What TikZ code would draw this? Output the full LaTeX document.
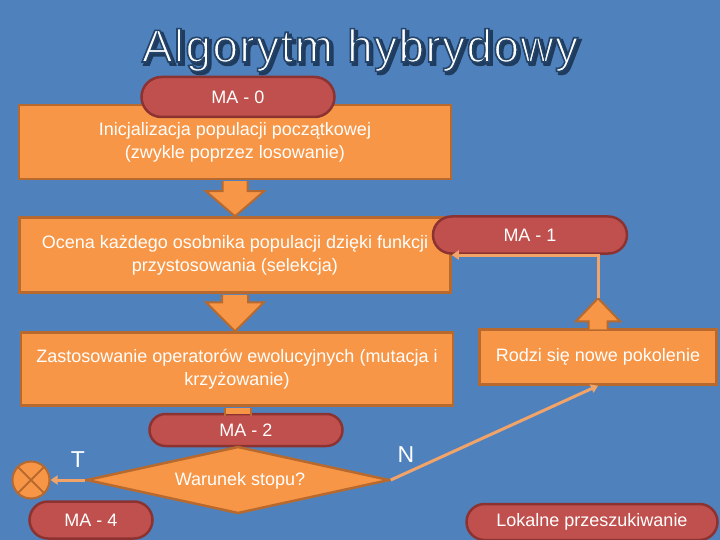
\documentclass[tikz,border=0pt]{standalone}
\usepackage{fontspec}
\setmainfont{Liberation Sans}
\newfontfamily\titlefont[LetterSpace=3]{Liberation Sans}
\usetikzlibrary{shapes.geometric,shapes.misc,arrows.meta,calc}
\definecolor{bg}{HTML}{4F81BD}
\definecolor{org}{HTML}{F79646}
\definecolor{orgd}{HTML}{B86A2E}
\definecolor{redf}{HTML}{C0504D}
\definecolor{redd}{HTML}{8C3332}
\definecolor{connc}{HTML}{F2A468}
\definecolor{navy}{HTML}{1F3B5E}
\begin{document}
\begin{tikzpicture}[x=1pt,y=-1pt,
  txt/.style={text=white,font=\fontsize{18}{23}\selectfont},
  box/.style={draw=orgd,fill=org,line width=2.5pt,inner sep=0pt,align=center,txt},
  pill/.style={rounded rectangle,draw=redd,fill=redf,line width=2.5pt,inner sep=0pt,txt},
  blkarrow/.style={fill=org},
  blkedge/.style={draw=orgd,line width=2pt,line join=miter},
  conn/.style={draw=connc,line width=3pt},
  tip/.style={-{Triangle[width=9pt,length=7pt]}},
  lbl/.style={text=white,font=\fontsize{23}{23}\selectfont},
  ttl/.style={font=\titlefont\fontsize{46}{46}\selectfont,anchor=base,inner sep=0pt}]
\useasboundingbox (0,0) rectangle (720,540);
\fill[bg] (0,0) rectangle (720,540);

% title: white fill, dark outline (text render mode 2), dark shadow behind
\node[ttl,text=navy] (titleshadow) at (362.5,64.5) {\special{pdf:literal direct 2 Tr 2.5 w 0.12 0.23 0.37 RG}Algorytm hybrydowy\special{pdf:literal direct 0 Tr}};
\node[ttl,text=white] (title) at (360,62) {\special{pdf:literal direct 2 Tr 1.6 w 0.14 0.27 0.42 RG}Algorytm hybrydowy\special{pdf:literal direct 0 Tr}};

% boxes
\node[box,minimum width=432pt,minimum height=74pt] (b1) at (235,142)
  {Inicjalizacja populacji początkowej\\(zwykle poprzez losowanie)};
\node[box,minimum width=431pt,minimum height=75pt] (b2) at (235,255)
  {Ocena każdego osobnika populacji dzięki funkcji\\przystosowania (selekcja)};
\node[box,minimum width=432pt,minimum height=73pt] (b3) at (237,369)
  {Zastosowanie operatorów ewolucyjnych (mutacja i\\krzyżowanie)};
\node[box,minimum width=237pt,minimum height=55pt] (rodzi) at (598,357)
  {Rodzi się nowe pokolenie};

% pills
\node[pill,minimum width=193pt,minimum height=40pt] (ma0) at (238,97) {MA - 0};
\node[pill,minimum width=194pt,minimum height=37pt] (ma1) at (530,235) {MA - 1};

% block arrows
\coordinate (a1s) at (b1.south); \coordinate (a1t) at (b2.north);
\fill[blkarrow] ($(a1s)+(-12.5,1)$) -- ($(a1t)+(-12.5,-25)$) -- ($(a1t)+(-29,-25)$) -- (a1t) -- ($(a1t)+(29,-25)$) -- ($(a1t)+(12.5,-25)$) -- ($(a1s)+(12.5,1)$) -- cycle;
\draw[blkedge] ($(a1s)+(-12.5,1)$) -- ($(a1t)+(-12.5,-25)$) -- ($(a1t)+(-29,-25)$) -- (a1t) -- ($(a1t)+(29,-25)$) -- ($(a1t)+(12.5,-25)$) -- ($(a1s)+(12.5,1)$);

\coordinate (a2s) at (b2.south); \coordinate (a2t) at ($(b3.north)+(-2,0)$);
\fill[blkarrow] ($(a2s)+(-13,1)$) -- ($(a2t)+(-13,-29)$) -- ($(a2t)+(-29,-29)$) -- (a2t) -- ($(a2t)+(29,-29)$) -- ($(a2t)+(13,-29)$) -- ($(a2s)+(13,1)$) -- cycle;
\draw[blkedge] ($(a2s)+(-13,1)$) -- ($(a2t)+(-13,-29)$) -- ($(a2t)+(-29,-29)$) -- (a2t) -- ($(a2t)+(29,-29)$) -- ($(a2t)+(13,-29)$) -- ($(a2s)+(13,1)$);

% up arrow from Rodzi
\coordinate (a3s) at (rodzi.north); \coordinate (uptip) at ($(rodzi.north)+(0,-30)$);
\fill[blkarrow] ($(a3s)+(-9.5,1)$) -- ($(uptip)+(-9.5,23)$) -- ($(uptip)+(-22,23)$) -- (uptip) -- ($(uptip)+(22,23)$) -- ($(uptip)+(9.5,23)$) -- ($(a3s)+(9.5,1)$) -- cycle;
\draw[blkedge] ($(a3s)+(-9.5,1)$) -- ($(uptip)+(-9.5,23)$) -- ($(uptip)+(-22,23)$) -- (uptip) -- ($(uptip)+(22,23)$) -- ($(uptip)+(9.5,23)$) -- ($(a3s)+(9.5,1)$);
\draw[conn,tip] (uptip) |- (b2.east);

% MA-2, diamond
\node[pill,minimum width=193pt,minimum height=32pt] (ma2) at (246,430) {MA - 2};
\coordinate (s3) at ($(b3.south)+(1,0)$);
\fill[org] ($(s3)+(-13,1)$) rectangle ($(ma2.north)+(5,1)$);
\draw[blkedge] ($(s3)+(-13,1)$) -- ($(s3)+(-13,9)$) ($(s3)+(13,1)$) -- ($(s3)+(13,9)$);
\node[diamond,draw=orgd,fill=org,line width=2.5pt,inner sep=0pt,minimum width=303pt,minimum height=67pt,txt] (dia) at (238,480) {};
\node[txt] (diat) at (240,481) {Warunek stopu?};

% circle X
\node[circle,draw=orgd,fill=org,line width=2pt,minimum size=37pt,inner sep=0pt] (stop) at (31,480) {};
\draw[orgd,line width=2pt] (stop.north west) -- (stop.south east) (stop.north east) -- (stop.south west);

% connectors
\draw[conn,tip] (dia.west) -- (stop.east);
\draw[conn,tip] (dia.east) -- (rodzi.south);
\node[lbl] (T) at (78,460) {T};
\node[lbl] (N) at (406,455) {N};

% bottom pills
\node[pill,minimum width=123pt,minimum height=37pt] (ma4) at (91,520) {MA - 4};
\node[pill,minimum width=251pt,minimum height=36pt] (lok) at (592,522) {Lokalne przeszukiwanie};
\end{tikzpicture}
\end{document}
